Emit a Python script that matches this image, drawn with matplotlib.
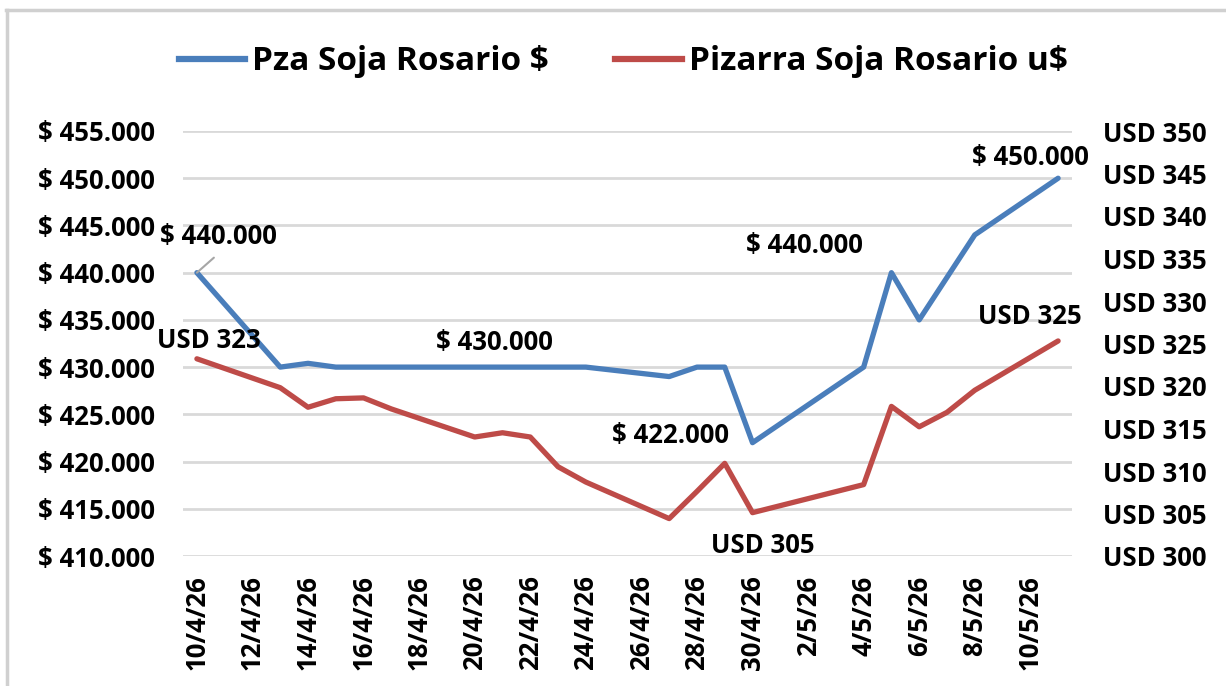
import matplotlib
matplotlib.use("Agg")
import matplotlib.pyplot as plt
from matplotlib.lines import Line2D
import datetime as dt

plt.rcParams['font.family'] = ['Open Sans', 'DejaVu Sans']

# ---- data ----
dates = ["2026-04-10", "2026-04-13", "2026-04-14", "2026-04-15", "2026-04-16", "2026-04-17",
         "2026-04-20", "2026-04-21", "2026-04-22", "2026-04-23", "2026-04-24",
         "2026-04-27", "2026-04-28", "2026-04-29", "2026-04-30",
         "2026-05-04", "2026-05-05", "2026-05-06", "2026-05-07", "2026-05-08", "2026-05-11"]
pza_pesos = [440000, 430000, 430400, 430000, 430000, 430000,
             430000, 430000, 430000, 430000, 430000,
             429000, 430000, 430000, 422000,
             430000, 440000, 435000, 439500, 444000, 450000]
pizarra_usd = [323.2, 319.8, 317.5, 318.5, 318.6, 317.3,
               314.0, 314.5, 314.0, 310.5, 308.7,
               304.4, 307.6, 310.9, 305.1,
               308.4, 317.6, 315.2, 316.9, 319.5, 325.3]
left_ticks = [410000, 415000, 420000, 425000, 430000, 435000, 440000, 445000, 450000, 455000]
right_ticks = [300, 305, 310, 315, 320, 325, 330, 335, 340, 345, 350]
series_names = ["Pza Soja Rosario $", "Pizarra Soja Rosario u$"]

# labels: (index, text, dx_px, dy_px)
blue_labels = [(0, "$ 440.000", 22, 36), (6, "$ 430.000", 20, 25), (14, "$ 422.000", -82, 7),
               (16, "$ 440.000", -87, 27), (20, "$ 450.000", -28, 21)]
red_labels = [(0, "USD 323", 12, 18), (14, "USD 305", 10, -33), (20, "USD 325", -28, 24)]

BLUE = "#4A7EBB"
RED = "#BE4B48"
GRID = "#D9D9D9"
FS = 18.5

x = [dt.datetime.strptime(d, "%Y-%m-%d") for d in dates]

fig = plt.figure(figsize=(12.26, 6.86), dpi=100)
ax = fig.add_axes([183/1226, 1-556/686, (1072-183)/1226, (556-131)/686])
ax2 = ax.twinx()

ax.plot(x, pza_pesos, color=BLUE, lw=3.8, solid_joinstyle='round', solid_capstyle='round', zorder=3)
ax2.plot(x, pizarra_usd, color=RED, lw=3.8, solid_joinstyle='round', solid_capstyle='round', zorder=3)

xmin = x[0] - dt.timedelta(hours=12)
xmax = x[-1] + dt.timedelta(hours=12)
ax.set_xlim(xmin, xmax)
ax.set_ylim(left_ticks[0], left_ticks[-1])
ax2.set_ylim(right_ticks[0], right_ticks[-1])

ax.set_yticks(left_ticks)
ax.set_yticklabels(["$ " + f"{v:,}".replace(",", ".") for v in left_ticks])
ax2.set_yticks(right_ticks)
ax2.set_yticklabels([f"USD {v}" for v in right_ticks])

xt = [x[0] + dt.timedelta(days=2*i) for i in range(16)]
ax.set_xticks(xt)
ax.set_xticklabels([f"{d.day}/{d.month}/{d.year % 100}" for d in xt], rotation=90)

ax.grid(axis='y', color=GRID, lw=2)
ax.set_axisbelow(True)
for a in (ax, ax2):
    for s in a.spines.values():
        s.set_visible(False)
    a.tick_params(length=0)
ax.tick_params(axis='y', pad=20, labelsize=FS)
ax.tick_params(axis='x', pad=14, labelsize=FS)
ax2.tick_params(axis='y', pad=22, labelsize=FS)
for lab in ax.get_yticklabels() + ax.get_xticklabels() + ax2.get_yticklabels():
    lab.set_fontweight('bold')

# leader line for first label
ax.annotate("", (x[0], pza_pesos[0]), xytext=(17*0.72, 15*0.72), textcoords='offset points',
            arrowprops=dict(arrowstyle='-', color='#A6A6A6', lw=1.5, shrinkA=0, shrinkB=0), zorder=4)

for i, txt, dx, dy in blue_labels:
    ax.annotate(txt, (x[i], pza_pesos[i]), xytext=(dx*0.72, dy*0.72), textcoords='offset points',
                ha='center', va='center', fontsize=FS, fontweight='bold', color='black', zorder=5)
for i, txt, dx, dy in red_labels:
    ax2.annotate(txt, (x[i], pizarra_usd[i]), xytext=(dx*0.72, dy*0.72), textcoords='offset points',
                 ha='center', va='center', fontsize=FS, fontweight='bold', color='black', zorder=5)

handles = [Line2D([], [], color=BLUE, lw=4.5), Line2D([], [], color=RED, lw=4.5)]
fig.legend(handles, series_names, loc='center', bbox_to_anchor=(623/1226, 1-62/686), ncol=2,
           frameon=False, prop=dict(size=24, weight='bold'), handlelength=2.0,
           handletextpad=0.2, columnspacing=2.0)

# outer chart border (top and left visible)
fig.add_artist(Line2D([6/1226, 1], [1-10/686, 1-10/686], color='#D0D0D0', lw=2.5, transform=fig.transFigure))
fig.add_artist(Line2D([7/1226, 7/1226], [0, 1-10/686], color='#D0D0D0', lw=2.5, transform=fig.transFigure))

fig.savefig("out.png", dpi=100)
